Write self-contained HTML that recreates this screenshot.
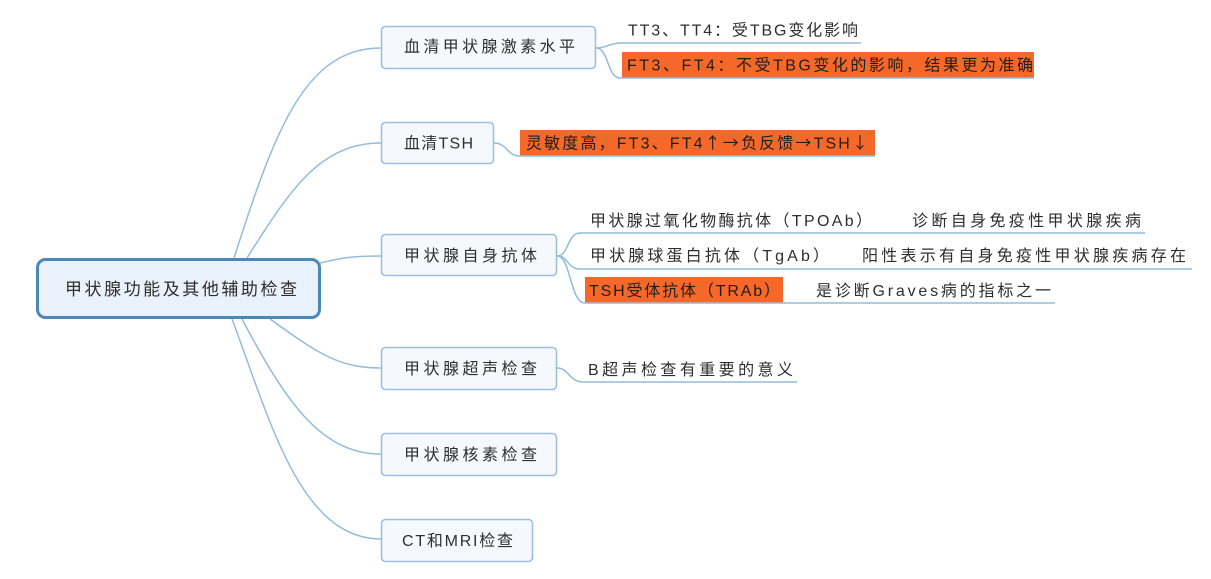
<!DOCTYPE html>
<html><head><meta charset="utf-8">
<style>
html,body{margin:0;padding:0;background:#fff;}
svg{display:block}
text{font-family:"Liberation Sans","Noto Sans CJK SC",sans-serif;font-size:16px;fill:#2e2e2e;}
.ar{font-family:"Noto Sans CJK SC",sans-serif;}
</style></head><body>
<svg width="1211" height="579" viewBox="0 0 1211 579" xmlns="http://www.w3.org/2000/svg">
<rect x="0" y="0" width="1211" height="579" fill="#ffffff"/>
<!-- main connectors -->
<g fill="none" stroke="#93bcdc" stroke-width="1.5">
<path d="M234 258 C 275 130, 305 48, 381 48"/>
<path d="M247 258 C 290 190, 320 143, 381 143"/>
<path d="M320 263 C 345 257, 355 256, 381 256"/>
<path d="M270 319 C 320 355, 340 368, 381 368"/>
<path d="M242 319 C 285 400, 320 454, 381 454"/>
<path d="M232 319 C 270 420, 300 539, 381 539"/>
</g>
<!-- orange highlights -->
<rect x="622" y="52" width="412" height="26" fill="#f5682a"/>
<rect x="520" y="130" width="355" height="26" fill="#f5682a"/>
<rect x="585" y="277" width="198" height="26" fill="#f5682a"/>
<!-- child connectors & underlines -->
<g fill="none" stroke="#93bcdc" stroke-width="1.5">
<path d="M596 48 C 607 48, 609 43, 622 43 L 861 43"/>
<path d="M596 48 C 609 48, 607 78, 620 78 L 1034 78"/>
<path d="M494 143 C 507 143, 507 156, 520 156 L 875 156"/>
<path d="M557 256 C 569 256, 567 233, 580 233 L 1145 233"/>
<path d="M557 256 C 569 256, 567 269, 580 269 L 1192 269"/>
<path d="M557 256 C 571 256, 570 303, 585 303 L 1055 303"/>
<path d="M557 368 C 569 368, 569 382, 583 382 L 797 382"/>
</g>
<!-- central node -->
<rect x="37.5" y="259.5" width="282" height="58" rx="8" ry="8" fill="#e9f1fa" stroke="#4b87b7" stroke-width="3"/>
<text x="65" y="295" style="font-size:17px" textLength="232" lengthAdjust="spacing">甲状腺功能及其他辅助检查</text>
<!-- main topic boxes -->
<g fill="#f5f9fd" stroke="#9cc0de" stroke-width="1.6">
<rect x="381.5" y="26.5" width="214" height="42" rx="4" ry="4"/>
<rect x="381.5" y="122.5" width="112" height="41" rx="4" ry="4"/>
<rect x="381.5" y="234.5" width="175" height="41" rx="4" ry="4"/>
<rect x="381.5" y="347.5" width="175" height="42" rx="4" ry="4"/>
<rect x="381.5" y="433.5" width="175" height="42" rx="4" ry="4"/>
<rect x="381.5" y="519.5" width="151" height="42" rx="4" ry="4"/>
</g>
<text x="404" y="52" textLength="171" lengthAdjust="spacing">血清甲状腺激素水平</text>
<text x="404" y="148.5" textLength="69" lengthAdjust="spacing">血清TSH</text>
<text x="404" y="261" textLength="133" lengthAdjust="spacing">甲状腺自身抗体</text>
<text x="404" y="374" textLength="133" lengthAdjust="spacing">甲状腺超声检查</text>
<text x="404" y="460" textLength="133" lengthAdjust="spacing">甲状腺核素检查</text>
<text x="402" y="546" textLength="111" lengthAdjust="spacing">CT和MRI检查</text>
<!-- children -->
<text x="628" y="35.5" textLength="230" lengthAdjust="spacing">TT3、TT4：受TBG变化影响</text>
<text x="627" y="70.5" textLength="406" lengthAdjust="spacing" style="fill:#1e1e1e">FT3、FT4：不受TBG变化的影响，结果更为准确</text>
<text x="526" y="148.5" textLength="342" lengthAdjust="spacing" style="fill:#1e1e1e">灵敏度高，FT3、FT4<tspan class="ar">↑→</tspan>负反馈<tspan class="ar">→</tspan>TSH<tspan class="ar">↓</tspan></text>
<text x="590" y="226" textLength="282" lengthAdjust="spacing">甲状腺过氧化物酶抗体（TPOAb）</text>
<text x="912" y="226" textLength="229" lengthAdjust="spacing">诊断自身免疫性甲状腺疾病</text>
<text x="590" y="261" textLength="239" lengthAdjust="spacing">甲状腺球蛋白抗体（TgAb）</text>
<text x="862" y="261" textLength="324" lengthAdjust="spacing">阳性表示有自身免疫性甲状腺疾病存在</text>
<text x="589" y="296" textLength="191" lengthAdjust="spacing" style="fill:#1e1e1e">TSH受体抗体（TRAb）</text>
<text x="816" y="296" textLength="235" lengthAdjust="spacing">是诊断Graves病的指标之一</text>
<text x="588" y="375" textLength="205" lengthAdjust="spacing">B超声检查有重要的意义</text>
</svg>
</body></html>
